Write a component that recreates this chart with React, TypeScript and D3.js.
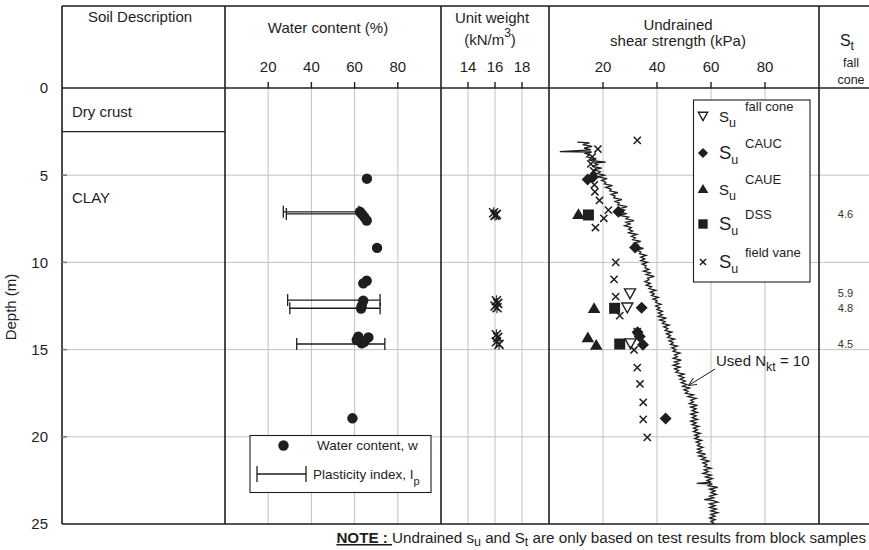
import React from 'react';
import * as d3 from 'd3';

// ---- axis ticks ----
const depthTicks = [0, 5, 10, 15, 20, 25];
const depthGrid = [5, 10, 15, 20];
const waterTicks = [20, 40, 60, 80];
const unitWeightTicks = [14, 16, 18];
const shearTicks = [20, 40, 60, 80];

// ---- water content w (%) vs depth (m) ----
const waterContent: [number, number][] = [
  [65.7, 5.2], [62.5, 7.1], [63.5, 7.25], [64.5, 7.4], [65.6, 7.6],
  [70.4, 9.17], [65.6, 11.05], [64.0, 11.2], [64.0, 12.2], [63.3, 12.5],
  [63.0, 12.65], [61.7, 14.26], [66.4, 14.3], [61.0, 14.45], [63.3, 14.64],
  [64.5, 14.55], [59.0, 18.94],
];

// ---- plasticity range: [wP, wL, depth] ----
const plasticity: [number, number, number][] = [
  [27.0, 62.0, 7.1], [28.4, 63.0, 7.22], [29.0, 71.8, 12.16],
  [30.0, 71.8, 12.63], [33.2, 74.0, 14.68],
];

// ---- unit weight (kN/m3) vs depth ----
const unitWeight: [number, number][] = [
  [15.9, 7.15], [16.1, 7.25], [16.0, 7.3],
  [16.1, 12.2], [16.2, 12.35], [16.0, 12.5], [16.15, 12.6],
  [16.1, 14.15], [16.2, 14.3], [16.1, 14.55], [16.3, 14.7],
];

// ---- undrained shear strength (kPa) vs depth ----
const suFallCone: [number, number][] = [[30.0, 11.77], [29.0, 12.58], [30.2, 14.64]];
const suCAUC: [number, number][] = [
  [14.3, 5.25], [16.3, 5.1], [25.7, 7.1], [31.9, 9.15], [34.3, 12.6],
  [32.8, 14.0], [33.6, 14.25], [34.8, 14.72], [43.2, 18.95],
];
const suCAUE: [number, number][] = [[10.9, 7.24], [16.7, 12.63], [14.4, 14.31], [17.5, 14.74]];
const suDSS: [number, number][] = [[14.6, 7.28], [24.3, 12.63], [26.2, 14.68]];
const suFieldVane: [number, number][] = [
  [32.7, 3.0], [18.1, 3.5], [16.0, 3.95], [15.5, 4.35], [16.5, 4.75],
  [16.8, 5.55], [17.0, 5.95], [18.7, 6.45], [22.0, 7.0], [20.3, 7.47],
  [17.2, 8.0], [24.7, 10.0], [24.1, 10.97], [24.7, 11.96], [26.2, 13.05],
  [32.7, 13.97], [31.5, 15.02], [32.7, 16.03], [33.7, 16.97], [34.9, 18.02],
  [34.9, 19.0], [36.4, 20.03],
];

// ---- CPTU derived su profile (Nkt = 10): [depth, su] ----
const cptSu: [number, number][] = [
  [3.1, 10.5], [3.15, 15.0], [3.25, 12.5], [3.35, 16.0], [3.45, 13.0], [3.55, 15.5],
  [3.65, 4.0], [3.67, 15.8], [3.75, 13.5], [3.85, 15.0], [3.95, 14.0], [4.05, 17.5],
  [4.15, 15.0], [4.25, 21.0], [4.3, 16.5], [4.4, 18.0], [4.5, 16.0], [4.6, 19.5],
  [4.7, 16.5], [4.8, 19.0], [4.9, 18.0], [5.0, 20.5], [5.1, 18.0], [5.2, 21.5],
  [5.3, 19.5], [5.4, 21.0], [5.5, 20.5], [5.6, 23.5], [5.7, 21.0], [5.8, 23.0],
  [5.9, 22.5], [6.0, 25.5], [6.1, 23.0], [6.2, 24.5], [6.3, 24.0], [6.4, 27.0],
  [6.5, 24.5], [6.6, 26.0], [6.7, 25.5], [6.8, 29.0], [6.9, 26.5], [7.0, 28.0],
  [7.1, 26.5], [7.2, 28.5], [7.3, 26.0], [7.4, 29.5], [7.5, 28.5], [7.6, 31.5],
  [7.7, 28.5], [7.8, 30.0], [7.9, 28.0], [8.0, 30.5], [8.1, 29.5], [8.2, 31.0],
  [8.3, 29.5], [8.4, 32.5], [8.5, 30.5], [8.6, 32.0], [8.7, 31.0], [8.8, 34.0],
  [8.9, 31.5], [9.0, 33.0], [9.1, 32.0], [9.2, 35.0], [9.3, 32.5], [9.4, 34.0],
  [9.5, 33.5], [9.6, 36.0], [9.7, 34.0], [9.8, 35.5], [9.9, 34.0], [10.0, 36.5],
  [10.1, 34.5], [10.2, 36.0], [10.3, 35.5], [10.4, 37.0], [10.5, 35.0], [10.6, 37.5],
  [10.7, 36.0], [10.8, 39.0], [10.9, 36.5], [11.0, 37.0], [11.1, 35.5], [11.2, 37.5],
  [11.3, 36.0], [11.4, 38.0], [11.5, 37.0], [11.6, 39.5], [11.7, 37.5], [11.8, 39.0],
  [11.9, 38.0], [12.0, 40.5], [12.1, 38.5], [12.2, 40.0], [12.3, 39.5], [12.4, 41.5],
  [12.5, 39.5], [12.6, 41.0], [12.7, 40.0], [12.8, 42.0], [12.9, 40.5], [13.0, 42.0],
  [13.1, 40.5], [13.2, 43.5], [13.3, 41.0], [13.4, 43.0], [13.5, 42.0], [13.6, 44.5],
  [13.7, 42.5], [13.8, 44.0], [13.9, 43.0], [14.0, 45.5], [14.1, 43.5], [14.2, 45.0],
  [14.3, 44.0], [14.4, 46.5], [14.5, 44.5], [14.6, 46.0], [14.7, 45.0], [14.8, 47.5],
  [14.9, 45.5], [15.0, 47.0], [15.1, 46.0], [15.2, 48.5], [15.3, 46.5], [15.4, 47.5],
  [15.5, 46.0], [15.6, 49.0], [15.7, 46.5], [15.8, 48.0], [15.9, 46.0], [16.0, 48.5],
  [16.1, 46.5], [16.2, 48.0], [16.3, 47.0], [16.4, 50.0], [16.5, 48.0], [16.6, 50.0],
  [16.7, 48.5], [16.8, 50.5], [16.9, 49.0], [17.0, 51.0], [17.1, 49.5], [17.2, 52.0],
  [17.3, 50.0], [17.4, 51.5], [17.5, 50.5], [17.6, 53.5], [17.7, 51.5], [17.8, 54.5],
  [17.9, 52.5], [18.0, 53.5], [18.1, 52.0], [18.2, 55.0], [18.3, 52.5], [18.4, 54.5],
  [18.5, 53.0], [18.6, 55.0], [18.7, 52.5], [18.8, 54.5], [18.9, 53.0], [19.0, 55.0],
  [19.1, 52.5], [19.2, 54.5], [19.3, 53.0], [19.4, 55.5], [19.5, 53.5], [19.6, 55.0],
  [19.7, 53.5], [19.8, 56.0], [19.9, 54.0], [20.0, 55.5], [20.1, 54.0], [20.2, 56.5],
  [20.3, 54.5], [20.4, 56.0], [20.5, 55.0], [20.6, 57.0], [20.7, 55.0], [20.8, 56.5],
  [20.9, 55.0], [21.0, 58.0], [21.1, 55.5], [21.2, 58.0], [21.3, 56.5], [21.4, 59.5],
  [21.5, 57.0], [21.6, 58.5], [21.7, 57.5], [21.8, 60.0], [21.9, 57.5], [22.0, 59.0],
  [22.1, 57.0], [22.2, 60.0], [22.3, 58.0], [22.4, 60.5], [22.5, 58.5], [22.6, 60.0],
  [22.67, 54.7], [22.7, 60.5], [22.8, 59.0], [22.9, 62.5], [23.0, 59.5], [23.1, 61.5],
  [23.2, 60.0], [23.3, 62.0], [23.4, 59.5], [23.5, 61.0], [23.6, 57.5], [23.65, 60.5],
  [23.75, 62.5], [23.85, 59.5], [23.95, 61.5], [24.05, 59.5], [24.15, 62.0], [24.25, 60.0],
  [24.35, 62.5], [24.45, 60.0], [24.55, 61.5], [24.65, 59.5], [24.75, 61.5], [24.85, 60.0],
  [24.95, 61.0], [25.0, 60.5],
];

// ---- sensitivity St from fall cone: [depth, St] ----
const sensitivity: [number, number][] = [[7.22, 4.6], [11.77, 5.9], [12.62, 4.8], [14.66, 4.5]];

// ---- frame geometry ----
const W = 869;
const H = 550;
const TOP = 6;
const HEAD = 88;
const BOTTOM = 524;
const LEFT = 62;
const RIGHT = 869;
const COLS = [62, 225, 441, 549, 819];

const y = d3.scaleLinear().domain([0, 25]).range([HEAD, BOTTOM]);
const xW = d3.scaleLinear().domain([0, 100]).range([225, 441]);
const xG = d3.scaleLinear().domain([12, 20]).range([441, 549]);
const xS = d3.scaleLinear().domain([0, 100]).range([549, 819]);

const INK = '#1e1e1e';
const GRID = '#c2c2c2';
const FONT = '"Liberation Sans", Arial, Helvetica, sans-serif';

const cross = (cx: number, cy: number, r: number) =>
  `M${cx - r},${cy - r}L${cx + r},${cy + r}M${cx - r},${cy + r}L${cx + r},${cy - r}`;
const triUp = (cx: number, cy: number, r: number) =>
  `M${cx},${cy - r}L${cx + r * 1.05},${cy + r * 0.8}L${cx - r * 1.05},${cy + r * 0.8}Z`;
const triDown = (cx: number, cy: number, r: number) =>
  `M${cx - r},${cy - r * 0.8}L${cx + r},${cy - r * 0.8}L${cx},${cy + r}Z`;
const diamond = (cx: number, cy: number, r: number) =>
  `M${cx},${cy - r}L${cx + r},${cy}L${cx},${cy + r}L${cx - r},${cy}Z`;
const square = (cx: number, cy: number, r: number) =>
  `M${cx - r},${cy - r}h${2 * r}v${2 * r}h${-2 * r}Z`;

type Kind = 'fall' | 'cauc' | 'caue' | 'dss' | 'vane';
function Marker({ kind, cx, cy, s = 1 }: { kind: Kind; cx: number; cy: number; s?: number }) {
  switch (kind) {
    case 'fall':
      return <path d={triDown(cx, cy, 5.5 * s)} fill="#fff" stroke={INK} strokeWidth={1.4} />;
    case 'cauc':
      return <path d={diamond(cx, cy, 6 * s)} fill={INK} />;
    case 'caue':
      return <path d={triUp(cx, cy, 6 * s)} fill={INK} />;
    case 'dss':
      return <path d={square(cx, cy, 5.5 * s)} fill={INK} />;
    default:
      return <path d={cross(cx, cy, 3.6 * s)} stroke={INK} strokeWidth={1.5} fill="none" />;
  }
}

const suSeries: { kind: Kind; data: [number, number][]; sup: string; big: boolean }[] = [
  { kind: 'fall', data: suFallCone, sup: 'fall cone', big: false },
  { kind: 'cauc', data: suCAUC, sup: 'CAUC', big: true },
  { kind: 'caue', data: suCAUE, sup: 'CAUE', big: false },
  { kind: 'dss', data: suDSS, sup: 'DSS', big: true },
  { kind: 'vane', data: suFieldVane, sup: 'field vane', big: true },
];
const legendRows = [116, 153, 189, 224, 262];

export default function App() {
  const cptPath = d3
    .line<[number, number]>()
    .x((d) => xS(d[1]))
    .y((d) => y(d[0]))(cptSu) as string;

  const topTicks = [
    ...waterTicks.map((t) => ({ x: xW(t), label: String(t) })),
    ...unitWeightTicks.map((t) => ({ x: xG(t), label: String(t) })),
    ...shearTicks.map((t) => ({ x: xS(t), label: String(t) })),
  ];

  return (
    <svg
      width={W}
      height={H}
      viewBox={`0 0 ${W} ${H}`}
      style={{ position: 'absolute', left: 0, top: 0, background: '#fff' }}
      fontFamily={FONT}
    >
      <defs>
        <marker id="arrowHead" viewBox="0 0 10 10" refX="9" refY="5" markerWidth="9" markerHeight="9" orient="auto">
          <path d="M0,0.8L9,5L0,9.2" fill="none" stroke={INK} strokeWidth={1.1} />
        </marker>
      </defs>
      <rect x={0} y={0} width={W} height={H} fill="#fff" />

      {/* grid */}
      {depthGrid.map((d) => (
        <line key={'hg' + d} x1={LEFT} x2={RIGHT} y1={y(d)} y2={y(d)} stroke={GRID} strokeWidth={1} />
      ))}
      {topTicks.map((t, i) => (
        <line key={'vg' + i} x1={t.x} x2={t.x} y1={HEAD} y2={BOTTOM} stroke={GRID} strokeWidth={1} />
      ))}

      {/* frame */}
      {[TOP, HEAD, BOTTOM].map((yy) => (
        <line key={'fr' + yy} x1={LEFT} x2={RIGHT} y1={yy} y2={yy} stroke={INK} strokeWidth={1.6} />
      ))}
      {COLS.map((xx) => (
        <line key={'fc' + xx} x1={xx} x2={xx} y1={TOP} y2={BOTTOM} stroke={INK} strokeWidth={1.6} />
      ))}
      <line x1={LEFT} x2={225} y1={y(2.5)} y2={y(2.5)} stroke={INK} strokeWidth={1.2} />

      {/* top ticks and labels */}
      {topTicks.map((t, i) => (
        <g key={'tt' + i}>
          <line x1={t.x} x2={t.x} y1={HEAD - 6} y2={HEAD} stroke={INK} strokeWidth={1.4} />
          <text x={t.x} y={72} fontSize={15} textAnchor="middle" fill={INK}>{t.label}</text>
        </g>
      ))}

      {/* depth axis */}
      {depthTicks.map((d) => (
        <g key={'dt' + d}>
          {d > 0 && d < 25 && <line x1={LEFT} x2={LEFT + 5} y1={y(d)} y2={y(d)} stroke="#777" strokeWidth={1.5} />}
          <text x={48} y={y(d)} dy="0.36em" fontSize={15} textAnchor="end" fill={INK}>{d}</text>
        </g>
      ))}
      <text transform={`translate(16,${(HEAD + BOTTOM) / 2 + 1}) rotate(-90)`} fontSize={15} textAnchor="middle" fill={INK}>
        Depth (m)
      </text>

      {/* headers */}
      <text x={140} y={22} fontSize={15} textAnchor="middle" fill={INK}>Soil Description</text>
      <text x={328} y={33} fontSize={15} textAnchor="middle" fill={INK}>Water content (%)</text>
      <text x={492} y={23} fontSize={15} textAnchor="middle" fill={INK}>Unit weight</text>
      <text x={490} y={45} fontSize={15} textAnchor="middle" fill={INK}>
        (kN/m<tspan fontSize={12} dy={-8}>3</tspan><tspan dy={8}>)</tspan>
      </text>
      <text x={678} y={30} fontSize={15} textAnchor="middle" fill={INK}>Undrained</text>
      <text x={678} y={46} fontSize={15} textAnchor="middle" fill={INK}>shear strength (kPa)</text>
      <text x={847} y={46} fontSize={16} textAnchor="middle" fill={INK}>
        S<tspan fontSize={12.5} dy={4}>t</tspan>
      </text>
      <text x={851} y={67} fontSize={12.5} textAnchor="middle" fill={INK}>fall</text>
      <text x={851} y={84} fontSize={12.5} textAnchor="middle" fill={INK}>cone</text>

      {/* soil description */}
      <text x={72} y={117} fontSize={15} fill={INK}>Dry crust</text>
      <text x={72} y={203} fontSize={15} fill={INK}>CLAY</text>

      {/* plasticity index bars */}
      {plasticity.map(([wp, wl, d], i) => (
        <g key={'pi' + i} stroke={INK} strokeWidth={1.3}>
          <line x1={xW(wp)} x2={xW(wl)} y1={y(d)} y2={y(d)} />
          <line x1={xW(wp)} x2={xW(wp)} y1={y(d) - 6} y2={y(d) + 6} />
          <line x1={xW(wl)} x2={xW(wl)} y1={y(d) - 6} y2={y(d) + 6} />
        </g>
      ))}
      {/* water content points */}
      {waterContent.map(([w, d], i) => (
        <circle key={'wc' + i} cx={xW(w)} cy={y(d)} r={5.2} fill={INK} />
      ))}

      {/* water content legend */}
      <rect x={250} y={435.5} width={181} height={57} fill="#fff" stroke={INK} strokeWidth={1.1} />
      <circle cx={283.5} cy={445.5} r={5.2} fill={INK} />
      <text x={317} y={450} fontSize={13.5} fill={INK}>Water content, w</text>
      <g stroke={INK} strokeWidth={1.3}>
        <line x1={257} x2={306} y1={474} y2={474} />
        <line x1={257} x2={257} y1={466} y2={482} />
        <line x1={306} x2={306} y1={466} y2={482} />
      </g>
      <text x={313} y={479} fontSize={13.5} fill={INK}>
        Plasticity index, I<tspan fontSize={11} dy={6}>p</tspan>
      </text>

      {/* unit weight */}
      {unitWeight.map(([g, d], i) => (
        <g key={'uw' + i} stroke={INK} strokeWidth={1.6}>
          <path d={cross(xG(g), y(d), 4.5)} />
          <path d={`M${xG(g)},${y(d) - 5.5}V${y(d) + 5.5}`} strokeWidth={1.1} />
        </g>
      ))}

      {/* CPTU derived profile */}
      <path d={cptPath} fill="none" stroke={INK} strokeWidth={1.3} strokeLinejoin="miter" />

      {/* laboratory and field vane su */}
      {suSeries.map((s) =>
        s.data.map(([su, d], i) => <Marker key={s.kind + i} kind={s.kind} cx={xS(su)} cy={y(d)} />),
      )}

      {/* Nkt annotation */}
      <line x1={715} y1={369} x2={688.5} y2={385.5} stroke={INK} strokeWidth={1} markerEnd="url(#arrowHead)" />
      <text x={716} y={366} fontSize={15} fill={INK}>
        Used N<tspan fontSize={12.5} dy={5}>kt</tspan>
        <tspan dy={-5}> = 10</tspan>
      </text>

      {/* su legend */}
      <rect x={693.5} y={100} width={116.5} height={182} fill="#fff" stroke={INK} strokeWidth={1.1} />
      {suSeries.map((s, i) => {
        const cy = legendRows[i];
        return (
          <g key={'lg' + s.kind}>
            <Marker kind={s.kind} cx={703} cy={cy} s={0.85} />
            <text x={719} y={cy + 6} fontSize={s.big ? 18.5 : 15} fill={INK}>
              S<tspan fontSize={12.5} dy={5}>u</tspan>
            </text>
            <text x={745} y={cy - 5} fontSize={13} fill={INK}>{s.sup}</text>
          </g>
        );
      })}

      {/* sensitivity */}
      {sensitivity.map(([d, st], i) => (
        <text key={'st' + i} x={845.5} y={y(d)} dy="0.36em" fontSize={11} textAnchor="middle" fill="#333">
          {st.toFixed(1)}
        </text>
      ))}

      {/* note */}
      <text x={866} y={543} fontSize={15.2} textAnchor="end" fill={INK}>
        <tspan fontWeight="bold" textDecoration="underline">NOTE : </tspan>
        <tspan>Undrained s</tspan>
        <tspan fontSize={12.5} dy={3}>u</tspan>
        <tspan dy={-3}> and S</tspan>
        <tspan fontSize={12.5} dy={3}>t</tspan>
        <tspan dy={-3}> are only based on test results from block samples</tspan>
      </text>
    </svg>
  );
}
